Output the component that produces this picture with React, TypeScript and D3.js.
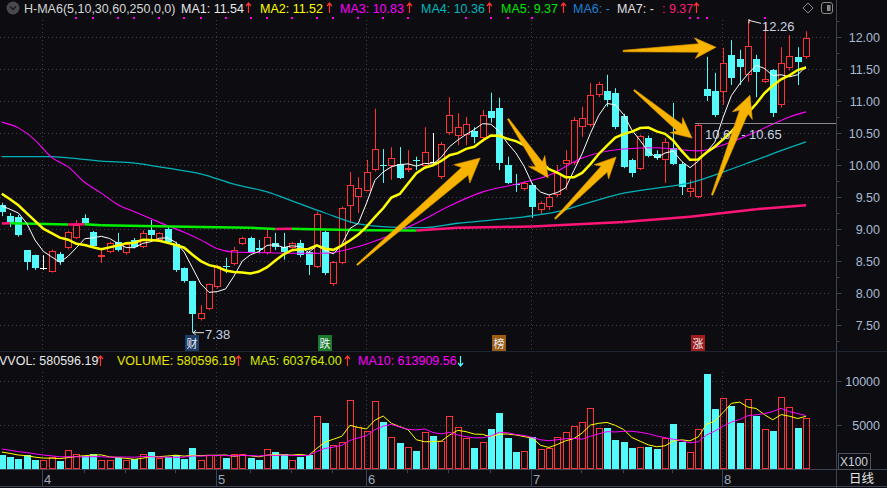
import React from "react";
import * as d3 from "d3";

// closes before the visible window (used to seed the 5/10 day averages)
const preCloses = [9.95, 9.85, 9.7, 9.6, 9.6, 9.35, 9.2, 9.28, 9.7];

const opens = [
  9.38, 9.2, 9.19, 8.67, 8.59, 8.39, 8.33, 8.61, 8.7, 8.86, 9.17, 8.95, 8.59, 8.64, 8.8, 8.63, 8.83, 8.72, 8.98, 8.83,
  9.0, 8.77, 8.39, 8.19, 7.59, 7.75, 8.09, 8.42, 8.45, 8.77, 8.86, 8.7, 8.63, 8.78, 8.72, 8.7, 8.78, 8.64, 8.41, 8.95,
  8.14, 8.47, 9.36, 9.5, 9.59, 9.92, 10.0, 9.98, 10.02, 9.92, 10.08, 9.98, 10.05, 9.81, 10.5, 10.45, 10.47, 10.53, 10.42, 10.84,
  10.89, 10.0, 9.7, 9.63, 9.69, 9.3, 9.34, 9.53, 10.02, 10.03, 10.59, 10.63, 11.09, 11.16, 11.13, 10.77, 10.08, 9.94, 10.42, 10.17,
  10.08, 10.27, 10.02, 9.58, 9.5, 11.19, 11.16, 11.14, 11.72, 11.66, 11.41, 11.66, 11.3, 11.48, 10.94, 11.52, 11.69, 11.69,
];
const highs = [
  9.41, 9.25, 9.22, 8.67, 8.6, 8.59, 8.68, 8.64, 8.97, 9.14, 9.23, 8.97, 8.67, 8.8, 8.94, 8.78, 8.86, 8.98, 9.14, 8.95,
  9.05, 8.8, 8.4, 8.19, 7.81, 8.15, 8.44, 8.55, 8.72, 8.88, 8.88, 8.83, 9.02, 8.94, 8.94, 8.8, 8.83, 8.66, 9.27, 8.97,
  8.5, 9.35, 9.89, 9.81, 10.08, 10.88, 10.25, 10.28, 10.28, 10.23, 10.13, 10.59, 10.5, 10.36, 11.06, 10.81, 10.75, 10.59, 10.86, 11.13,
  11.05, 10.13, 9.86, 9.75, 9.72, 9.43, 9.53, 10.0, 10.23, 10.75, 10.91, 11.28, 11.3, 11.41, 11.2, 10.8, 10.1, 10.47, 10.46, 10.23,
  10.42, 10.97, 10.05, 9.77, 10.65, 11.69, 11.44, 11.83, 11.95, 11.8, 12.26, 11.72, 12.23, 11.5, 11.84, 12.03, 11.84, 12.09,
];
const lows = [
  9.2, 9.03, 8.88, 8.36, 8.36, 8.36, 8.32, 8.44, 8.68, 8.84, 9.07, 8.72, 8.47, 8.62, 8.65, 8.6, 8.7, 8.7, 8.83, 8.81,
  8.78, 8.33, 8.16, 7.38, 7.57, 7.73, 8.07, 8.31, 8.43, 8.75, 8.63, 8.62, 8.6, 8.67, 8.52, 8.67, 8.56, 8.28, 8.39, 8.28,
  8.11, 8.45, 9.09, 9.25, 9.59, 9.9, 9.72, 9.77, 9.78, 9.89, 9.92, 9.96, 10.03, 9.78, 10.47, 10.31, 10.31, 10.34, 10.36, 10.66,
  9.92, 9.7, 9.58, 9.6, 9.17, 9.22, 9.3, 9.5, 9.61, 10.0, 10.44, 10.6, 11.06, 10.91, 10.56, 9.95, 9.81, 9.92, 10.12, 10.08,
  9.72, 10.0, 9.53, 9.5, 9.48, 11.0, 10.75, 10.94, 11.25, 11.25, 11.3, 11.06, 11.28, 10.75, 10.9, 11.48, 11.25, 11.66,
];
const closes = [
  9.27, 9.09, 8.91, 8.48, 8.39, 8.39, 8.66, 8.48, 8.95, 9.06, 9.09, 8.73, 8.6, 8.78, 8.67, 8.77, 8.72, 8.94, 8.91, 8.94,
  8.8, 8.36, 8.19, 7.67, 7.69, 8.14, 8.42, 8.4, 8.67, 8.86, 8.64, 8.67, 8.88, 8.72, 8.64, 8.78, 8.59, 8.44, 9.23, 8.31,
  8.48, 9.33, 9.69, 9.64, 9.89, 10.25, 9.98, 10.11, 9.8, 9.95, 10.07, 10.2, 10.05, 10.33, 10.78, 10.59, 10.64, 10.44, 10.78, 10.73,
  10.03, 9.72, 9.69, 9.72, 9.34, 9.41, 9.5, 9.88, 10.08, 10.7, 10.73, 11.09, 11.27, 11.02, 10.59, 9.97, 9.88, 10.45, 10.14, 10.11,
  10.36, 10.02, 9.66, 9.64, 10.62, 11.08, 10.78, 11.59, 11.36, 11.53, 11.86, 11.45, 11.34, 10.81, 11.59, 11.7, 11.61, 11.98,
];

// volume in lots of 100
const preVolumes = [2800, 2700, 2600, 2500, 2450, 2200, 2050, 1950, 1860];
const volumes = [
  1590, 1400, 1140, 1590, 1020, 1050, 1330, 910, 2160, 1670, 1510, 1670, 1020, 1020, 1290, 1020, 1140, 1670, 1970, 1210,
  1400, 1590, 1140, 2420, 1060, 1590, 1590, 1290, 1670, 1670, 1290, 1020, 2230, 1930, 1670, 1060, 1400, 1590, 6020, 5190,
  2730, 3030, 7840, 4810, 4320, 7730, 5380, 3670, 2990, 2540, 2040, 4240, 3790, 3180, 6020, 4740, 3480, 2420, 3030, 4540,
  6320, 3560, 1890, 2080, 3670, 2230, 2350, 3600, 4170, 4920, 5380, 6890, 4620, 4620, 3290, 3030, 2350, 2460, 2540, 2270,
  3560, 5080, 3110, 1970, 4510, 10760, 6820, 8030, 7200, 5190, 7920, 6020, 4510, 4320, 8140, 7010, 4690, 5805.9619,
];
const volMa5Label = 603764.0;
const volMa10Label = 613909.56;

// long averages (day index / value)
const ma30Days = [0, 2, 4, 6, 8, 10, 12, 14, 16, 18, 20, 22, 24, 26, 28, 32, 36, 39, 42, 46, 50, 54, 58, 62, 66, 70, 75, 79, 84, 88, 91, 95, 97];
const ma30Vals = [10.67, 10.58, 10.39, 10.12, 9.97, 9.73, 9.56, 9.38, 9.27, 9.16, 9.05, 8.95, 8.83, 8.69, 8.64, 8.63, 8.62, 8.62, 8.69, 8.86, 9.09, 9.36, 9.58, 9.7, 9.84, 10.11, 10.25, 10.27, 10.22, 10.36, 10.52, 10.75, 10.83];
const ma60Days = [0, 6, 8, 12, 16, 20, 24, 28, 32, 35, 39, 43, 47, 51, 55, 59, 63, 67, 71, 75, 79, 83, 87, 91, 95, 97];
const ma60Vals = [10.13, 10.13, 10.11, 10.06, 10.03, 9.95, 9.86, 9.7, 9.58, 9.44, 9.25, 9.08, 9.03, 9.02, 9.09, 9.14, 9.19, 9.27, 9.42, 9.56, 9.64, 9.72, 9.89, 10.08, 10.27, 10.36];
const ma250Days = [0, 1, 8, 10, 12, 24, 30, 33, 35, 36, 44, 50, 55, 60, 64, 67, 75, 83, 91, 97];
const ma250Vals = [9.085, 9.09, 9.07, 9.075, 9.06, 9.03, 9.02, 9.0, 9.005, 9.0, 8.98, 8.975, 9.02, 9.03, 9.04, 9.06, 9.11, 9.19, 9.31, 9.37];

const monthDays = [5, 26, 44, 64, 87];
const monthLabels = ["4", "5", "6", "7", "8"];
const weekDays = [10, 15, 21, 30, 35, 40, 49, 54, 59, 70, 75, 81];
const priceTicks = [7.5, 8, 8.5, 9, 9.5, 10, 10.5, 11, 11.5, 12];
const priceMinor = [7.25, 7.75, 8.25, 8.75, 9.25, 9.75, 10.25, 10.75, 11.25, 11.75, 12.25];
const volTicks = [5000, 10000];

const markerDays = [23, 39, 60, 84];
const markerText = ["财", "跌", "榜", "涨"];
const markerFill = ["#1c3d66", "#1c7a2c", "#9c5c14", "#a01c1c"];
const eventDots = [9, 11, 14, 16, 19, 22, 24, 27, 30, 32, 35, 38, 40, 43, 46, 49, 56, 59, 61, 64, 83, 84, 85, 92];

// hand-drawn annotation arrows: [day, price] tail -> tip
const arrowTails = [[42.85, 8.44], [61.06, 10.72], [66.73, 9.16], [76.26, 11.17], [85.67, 9.53], [74.93, 11.78]];
const arrowTips = [[57.7, 10.11], [65.9, 9.8], [74.09, 10.125], [83.26, 10.42], [90.25, 11.09], [86.15, 11.84]];

const BG = "#0d0d11";
const UP = "#ff3434";
const DOWN = "#54fafa";
const GRID = "#3e3f4a";
const AXIS = "#3c4556";
const LABEL = "#a9bad2";
const FONT = "'Liberation Sans', Arial, 'Noto Sans CJK SC', sans-serif";
const CJK = "'Noto Sans CJK SC', sans-serif";

function movingAvg(pre: number[], vals: number[], n: number) {
  const all = pre.concat(vals);
  return vals.map((_, i) => d3.mean(all.slice(i + pre.length - n + 1, i + pre.length + 1)) as number);
}

function arrowPath(tx: number, ty: number, px: number, py: number) {
  const dx = px - tx, dy = py - ty;
  const len = Math.hypot(dx, dy);
  const ux = dx / len, uy = dy / len;
  const nx = -uy, ny = ux;
  const hl = 13 + len * 0.045;
  const hw = hl * 1.2;
  const sw = hl * 0.5;
  const tw = 1.5;
  const bx = px - ux * hl, by = py - uy * hl;
  const notch = 4;
  const pts = [
    [tx + nx * tw / 2, ty + ny * tw / 2],
    [bx + nx * sw / 2, by + ny * sw / 2],
    [bx - ux * notch + nx * hw / 2, by - uy * notch + ny * hw / 2],
    [px, py],
    [bx - ux * notch - nx * hw / 2, by - uy * notch - ny * hw / 2],
    [bx - nx * sw / 2, by - ny * sw / 2],
    [tx - nx * tw / 2, ty - ny * tw / 2],
  ];
  return "M" + pts.map((p) => p[0].toFixed(1) + "," + p[1].toFixed(1)).join("L") + "Z";
}

function UpArrow({ x, y, color = UP, down = false }: { x: number; y: number; color?: string; down?: boolean }) {
  const d = down
    ? `M${x},${y - 10}L${x},${y}M${x - 2.5},${y - 3}L${x},${y}L${x + 2.5},${y - 3}`
    : `M${x},${y}L${x},${y - 10}M${x - 2.5},${y - 7}L${x},${y - 10}L${x + 2.5},${y - 7}`;
  return <path d={d} stroke={color} strokeWidth={1.2} fill="none" />;
}

export default function App() {
  const W = 887;
  const H = 488;
  const N = closes.length;
  const axisX = 836.5;

  const x = d3.scaleLinear().domain([0, N - 1]).range([1.8, 806]);
  const yP = d3.scaleLinear().domain([7.5, 12]).range([325, 37]);
  const yV = d3.scaleLinear().domain([0, 10000]).range([469, 381]);
  const cx = (i: number) => Math.round(x(i));

  const ma5 = movingAvg(preCloses, closes, 5);
  const ma10 = movingAvg(preCloses, closes, 10);
  const vma5 = movingAvg(preVolumes, volumes, 5);
  const vma10 = movingAvg(preVolumes, volumes, 10);

  const pLine = d3.line<number>().x((_, i) => x(i)).y((v) => yP(v));
  const vLine = d3.line<number>().x((_, i) => x(i)).y((v) => yV(v));
  const sampled = (days: number[]) =>
    d3.line<number>().x((_, i) => x(days[i])).y((v) => yP(v)).curve(d3.curveMonotoneX);

  const isUp = (i: number) =>
    closes[i] > opens[i] || (closes[i] === opens[i] && closes[i] >= (i > 0 ? closes[i - 1] : closes[i]));

  const hiIdx = d3.maxIndex(highs);
  const loIdx = d3.minIndex(lows);
  const lastVol = (volumes[N - 1] * 100).toFixed(2);

  return (
    <svg width={W} height={H} style={{ position: "fixed", left: 0, top: 0, display: "block", background: BG }}>
      <defs>
        <clipPath id="pclip">
          <rect x={0} y={19} width={axisX} height={332} />
        </clipPath>
        <clipPath id="vclip">
          <rect x={0} y={370} width={axisX} height={100} />
        </clipPath>
      </defs>
      <rect width={W} height={H} fill={BG} />

      {/* grid */}
      {priceTicks.map((t) => (
        <line key={"g" + t} x1={0} x2={832} y1={Math.round(yP(t)) + 0.5} y2={Math.round(yP(t)) + 0.5}
          stroke={GRID} strokeDasharray="1,3" />
      ))}
      {volTicks.map((t) => (
        <line key={"vg" + t} x1={0} x2={832} y1={Math.round(yV(t)) + 0.5} y2={Math.round(yV(t)) + 0.5}
          stroke={GRID} strokeDasharray="1,3" />
      ))}
      {monthDays.map((d) => (
        <g key={"m" + d}>
          <line x1={cx(d) - 0.5} x2={cx(d) - 0.5} y1={20} y2={350} stroke={GRID} strokeDasharray="1,3" />
          <line x1={cx(d) - 0.5} x2={cx(d) - 0.5} y1={372} y2={469} stroke={GRID} strokeDasharray="1,3" />
        </g>
      ))}

      {/* candles */}
      <g clipPath="url(#pclip)">
        {closes.map((c, i) => {
          const o = opens[i];
          const X = cx(i);
          const top = Math.round(yP(Math.max(o, c)));
          const bot = Math.round(yP(Math.min(o, c)));
          if (o === c) {
            return (
              <g key={i}>
                <line x1={X + 0.5} x2={X + 0.5} y1={yP(highs[i])} y2={yP(lows[i])} stroke="#ffffff" />
                <line x1={X - 3} x2={X + 4} y1={top + 0.5} y2={top + 0.5} stroke="#ffffff" />
              </g>
            );
          }
          if (c > o) {
            return (
              <g key={i}>
                <line x1={X + 0.5} x2={X + 0.5} y1={yP(highs[i])} y2={yP(lows[i])} stroke={UP} />
                <rect x={X - 2.5} y={top + 0.5} width={6} height={Math.max(1, bot - top - 1)} fill={BG} stroke={UP} />
              </g>
            );
          }
          return (
            <g key={i}>
              <line x1={X + 0.5} x2={X + 0.5} y1={yP(highs[i])} y2={yP(lows[i])} stroke={DOWN} />
              <rect x={X - 3} y={top} width={7} height={Math.max(1, bot - top)} fill={DOWN} />
            </g>
          );
        })}

        {/* moving averages */}
        <path d={sampled(ma60Days)(ma60Vals) || ""} fill="none" stroke="#00b2b8" strokeWidth={1.3} />
        <path d={sampled(ma30Days)(ma30Vals) || ""} fill="none" stroke="#ff00ff" strokeWidth={1.1} />
        {ma250Vals.slice(1).map((v, i) => (
          <line key={"l" + i} x1={x(ma250Days[i])} x2={x(ma250Days[i + 1])} y1={yP(ma250Vals[i])} y2={yP(v)}
            stroke={v > ma250Vals[i] ? "#ff1478" : "#00f000"} strokeWidth={2.5} />
        ))}
        <path d={pLine(ma5) || ""} fill="none" stroke="#ffffff" strokeWidth={1} />
        <path d={pLine(ma10) || ""} fill="none" stroke="#ffff00" strokeWidth={2.5} />

        {/* gap line */}
        <line x1={cx(84) - 3} x2={axisX} y1={Math.round(yP(highs[84])) + 0.5} y2={Math.round(yP(highs[84])) + 0.5} stroke="#8a8a8a" />
        <text x={cx(84) + 7} y={yP(highs[84]) + 16} fill="#c6d2e2" fontFamily={FONT} fontSize={13}>
          {closes[84].toFixed(2) + " - " + highs[84].toFixed(2)}
        </text>

        {/* high / low labels */}
        <path d={`M${cx(loIdx) + 1},${yP(lows[loIdx])}L${cx(loIdx) + 12},${yP(lows[loIdx])}M${cx(loIdx) + 4},${yP(lows[loIdx]) - 2.5}L${cx(loIdx) + 1},${yP(lows[loIdx])}L${cx(loIdx) + 4},${yP(lows[loIdx]) + 2.5}`}
          stroke="#e8e8e8" fill="none" />
        <text x={cx(loIdx) + 13} y={yP(lows[loIdx]) + 6} fill="#c6d2e2" fontFamily={FONT} fontSize={13}>
          {lows[loIdx].toFixed(2)}
        </text>
        <path d={`M${cx(hiIdx) + 1},${yP(highs[hiIdx])}L${cx(hiIdx) + 13},${yP(highs[hiIdx]) + 3}M${cx(hiIdx) + 1},${yP(highs[hiIdx]) - 3}L${cx(hiIdx) + 1},${yP(highs[hiIdx]) + 3}`}
          stroke="#e8e8e8" fill="none" />
        <text x={cx(hiIdx) + 14} y={yP(highs[hiIdx]) + 11} fill="#c6d2e2" fontFamily={FONT} fontSize={13}>
          {highs[hiIdx].toFixed(2)}
        </text>

        {/* event markers */}
        {markerDays.map((d, i) => (
          <g key={"mk" + d}>
            <rect x={cx(d) - 7} y={335} width={14} height={16} fill={markerFill[i]} />
            <text x={cx(d)} y={347.5} textAnchor="middle" fill="#e8eef6" fontFamily={CJK} fontSize={11}>
              {markerText[i]}
            </text>
          </g>
        ))}

        {/* arrows */}
        {arrowTails.map((t, i) => (
          <path key={"a" + i} d={arrowPath(x(t[0]), yP(t[1]), x(arrowTips[i][0]), yP(arrowTips[i][1]))}
            fill="#f8b300" stroke="#e09a00" strokeWidth={0.6} />
        ))}
      </g>

      {eventDots.map((d) => (
        <rect key={"d" + d} x={cx(d) - 1} y={17} width={2} height={2} fill="#ff00ff" />
      ))}

      {/* volume */}
      <g clipPath="url(#vclip)">
        {volumes.map((v, i) => {
          const X = cx(i);
          const top = Math.round(yV(v));
          return isUp(i) ? (
            <rect key={"v" + i} x={X - 2.5} y={top + 0.5} width={6} height={468 - top} fill="none" stroke={UP} />
          ) : (
            <rect key={"v" + i} x={X - 3} y={top} width={7} height={469 - top} fill={DOWN} />
          );
        })}
        <path d={vLine(vma5) || ""} fill="none" stroke="#ffff00" strokeWidth={1} />
        <path d={vLine(vma10) || ""} fill="none" stroke="#ff00ff" strokeWidth={1} />
      </g>

      {/* frame lines */}
      <line x1={axisX} x2={axisX} y1={0} y2={H} stroke={AXIS} />
      <line x1={0} x2={W} y1={351.5} y2={351.5} stroke="#1e2430" />
      <line x1={0} x2={W} y1={469.5} y2={469.5} stroke={AXIS} />
      <line x1={0} x2={W} y1={486.5} y2={486.5} stroke={AXIS} />

      {/* price axis */}
      {priceTicks.map((t) => (
        <g key={"pt" + t}>
          <line x1={axisX} x2={axisX + 5} y1={Math.round(yP(t)) + 0.5} y2={Math.round(yP(t)) + 0.5} stroke={AXIS} />
          <text x={880} y={yP(t) + 4.5} textAnchor="end" fill={LABEL} fontFamily={FONT} fontSize={12.5}>
            {t.toFixed(2)}
          </text>
        </g>
      ))}
      {priceMinor.map((t) => (
        <line key={"pm" + t} x1={axisX} x2={axisX + 3} y1={Math.round(yP(t)) + 0.5} y2={Math.round(yP(t)) + 0.5} stroke={AXIS} />
      ))}
      {volTicks.map((t) => (
        <g key={"vt" + t}>
          <line x1={axisX} x2={axisX + 5} y1={Math.round(yV(t)) + 0.5} y2={Math.round(yV(t)) + 0.5} stroke={AXIS} />
          <text x={880} y={yV(t) + 4.5} textAnchor="end" fill={LABEL} fontFamily={FONT} fontSize={12.5}>
            {t}
          </text>
        </g>
      ))}
      <rect x={838.5} y={453.5} width={32} height={16} fill="none" stroke="#4a5262" />
      <text x={840} y={466} fill="#c8d0dc" fontFamily={FONT} fontSize={12}>X100</text>
      <text x={849} y={483} fill="#e4e4e4" fontFamily={CJK} fontSize={12.5}>日线</text>

      {/* time axis */}
      {monthDays.map((d, i) => (
        <g key={"ma" + d}>
          <line x1={cx(d) - 0.5} x2={cx(d) - 0.5} y1={470} y2={486} stroke={AXIS} />
          <text x={cx(d) + 1} y={484} fill="#9aa6b8" fontFamily={FONT} fontSize={13}>{monthLabels[i]}</text>
        </g>
      ))}
      {weekDays.map((d) => (
        <line key={"w" + d} x1={cx(d) - 0.5} x2={cx(d) - 0.5} y1={470} y2={473} stroke={AXIS} />
      ))}

      {/* header */}
      <g fontFamily={FONT} fontSize={12.5}>
        <circle cx={13} cy={8} r={6.5} fill="#4a4a4e" />
        <path d="M10,6.5L13,9.5L16,6.5" stroke="#1a1a1a" strokeWidth={1.5} fill="none" />
        <text x={24} y={13} fill="#d6d6d6">H-MA6(5,10,30,60,250,0,0)</text>
        <text x={181} y={13} fill="#e8e8e8">{"MA1: " + ma5[N - 1].toFixed(2)}</text>
        <UpArrow x={248.5} y={13} />
        <text x={260} y={13} fill="#ffff00">{"MA2: " + ma10[N - 1].toFixed(2)}</text>
        <UpArrow x={329.5} y={13} />
        <text x={340} y={13} fill="#ff00ff">{"MA3: " + ma30Vals[ma30Vals.length - 1].toFixed(2)}</text>
        <UpArrow x={409.5} y={13} />
        <text x={421} y={13} fill="#00b8bc">{"MA4: " + ma60Vals[ma60Vals.length - 1].toFixed(2)}</text>
        <UpArrow x={489.5} y={13} />
        <text x={501} y={13} fill="#00e600">{"MA5: " + ma250Vals[ma250Vals.length - 1].toFixed(2)}</text>
        <UpArrow x={563.5} y={13} />
        <text x={573} y={13} fill="#1f7fd6">MA6: -</text>
        <text x={617} y={13} fill="#e0e0e0">MA7: -</text>
        <text x={662} y={13} fill="#ff1a78">{": " + ma250Vals[ma250Vals.length - 1].toFixed(2)}</text>
        <UpArrow x={696.5} y={13} />
        <path d="M808,3L813,8L808,13L803,8Z" fill="none" stroke="#8a8a8a" />
        <rect x={821.5} y={2.5} width={11} height={11} rx={2.5} fill="none" stroke="#8a8a8a" />
        <rect x={827} y={5} width={3.5} height={6} fill="#8a8a8a" />
      </g>

      {/* volume header */}
      <g fontFamily={FONT} fontSize={12.5}>
        <text x={-1} y={365} fill="#e8e8e8">{"VVOL: " + lastVol}</text>
        <UpArrow x={100.5} y={366} />
        <text x={117} y={365} fill="#e6e600">{"VOLUME: " + lastVol}</text>
        <UpArrow x={238.5} y={366} />
        <text x={250} y={365} fill="#d4ea00">{"MA5: " + volMa5Label.toFixed(2)}</text>
        <UpArrow x={347.5} y={366} />
        <text x={358} y={365} fill="#ff00ff">{"MA10: " + volMa10Label.toFixed(2)}</text>
        <UpArrow x={460.5} y={366} color={DOWN} down />
      </g>
    </svg>
  );
}
